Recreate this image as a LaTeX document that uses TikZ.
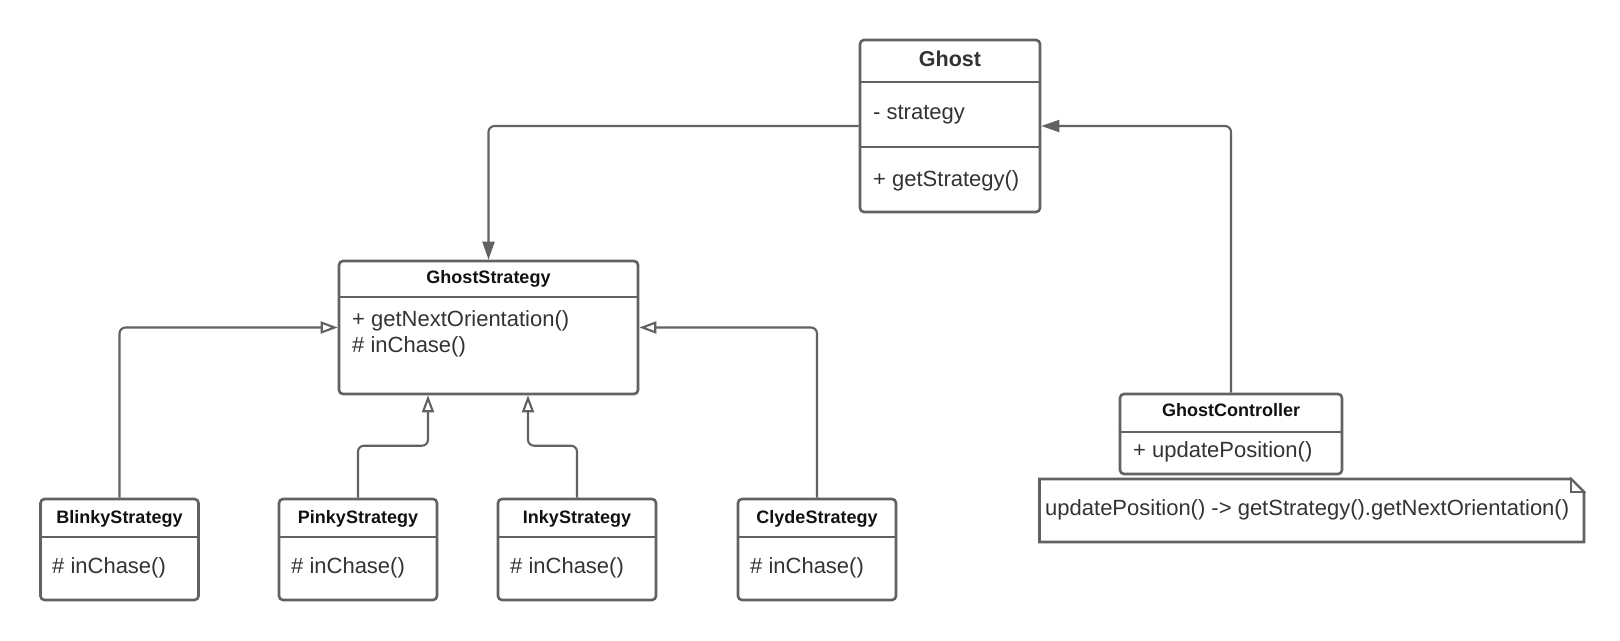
\documentclass[tikz,border=0pt]{standalone}
\usepackage{fontspec}
\setmainfont{Liberation Sans}
\usetikzlibrary{arrows.meta,calc}
\definecolor{lc}{HTML}{626262}
\definecolor{tc}{HTML}{333333}
\definecolor{hc}{HTML}{111111}
\tikzset{
  box/.style={draw=lc, line width=2.6pt, rounded corners=4pt, inner sep=0pt, fill=white},
  sepline/.style={draw=lc, line width=2.6pt},
  txt/.style={anchor=base west, inner sep=0pt, text=tc, font=\fontsize{22}{26}\selectfont},
  hdr/.style={anchor=base, inner sep=0pt, text=hc, font=\bfseries\fontsize{18}{20}\selectfont},
  bighdr/.style={anchor=base, inner sep=0pt, text=tc, font=\bfseries\fontsize{21.5}{24}\selectfont},
  assoc/.style={draw=lc, line width=2.1pt, rounded corners=6pt, -{Triangle[length=18pt,width=12pt]}},
  gen/.style={draw=lc, line width=2.1pt, rounded corners=6pt, -{Triangle[open,length=17pt,width=12pt,line width=2.1pt]}},
}
\begin{document}
\begin{tikzpicture}[x=1pt,y=-1pt]
\useasboundingbox (0,0) rectangle (1620,640);
\fill[white] (0,0) rectangle (1620,640);

% Ghost
\node[box, minimum width=180pt, minimum height=172pt] (ghost) at (950,126) {};
\draw[sepline] (ghost.west |- 0,82) -- (ghost.east |- 0,82);
\draw[sepline] (ghost.west |- 0,147) -- (ghost.east |- 0,147);
\node[bighdr] (ghostT) at (950,66) {Ghost};
\node[txt] (ghostA) at (873,119) {- strategy};
\node[txt] (ghostM) at (873,186) {+ getStrategy()};

% GhostStrategy
\node[box, minimum width=299pt, minimum height=133pt] (gs) at (488.5,327.5) {};
\draw[sepline] (gs.west |- 0,297) -- (gs.east |- 0,297);
\node[hdr] (gsT) at (488.5,283) {GhostStrategy};
\node[txt] (gsM1) at (352,326) {+ getNextOrientation()};
\node[txt] (gsM2) at (352,352) {\# inChase()};

% Strategies
\foreach \n/\cx/\lbl in {blinky/119.5/BlinkyStrategy, pinky/358/PinkyStrategy, inky/577/InkyStrategy, clyde/817/ClydeStrategy}{
  \node[box, minimum width=158pt, minimum height=101pt] (\n) at (\cx,549.5) {};
  \draw[sepline] (\n.west |- 0,537) -- (\n.east |- 0,537);
  \node[hdr] (\n T) at (\cx,523) {\lbl};
}
\node[txt] (blinkyB) at (52,573) {\# inChase()};
\node[txt] (pinkyB) at (291,573) {\# inChase()};
\node[txt] (inkyB) at (510,573) {\# inChase()};
\node[txt] (clydeB) at (750,573) {\# inChase()};

% GhostController
\node[box, minimum width=222pt, minimum height=80pt] (gc) at (1231,434) {};
\draw[sepline] (gc.west |- 0,432) -- (gc.east |- 0,432);
\node[hdr] (gcT) at (1231,416) {GhostController};
\node[txt] (gcM) at (1133,457) {+ updatePosition()};

% Note
\draw[draw=lc, line width=2.6pt, fill=white] (1039.5,479) -- (1571,479) -- (1584,492) -- (1584,542) -- (1039.5,542) -- cycle;
\draw[draw=lc, line width=1.8pt, fill=white] (1571,479) -- (1571,492) -- (1584,492) -- cycle;
\node[txt] (note) at (1045,515) {updatePosition() -> getStrategy().getNextOrientation()};

% Connectors
\draw[assoc] (ghost.west) -| (gs.north);
\draw[assoc] (gc.north) |- (ghost.east);
\draw[gen] (blinky.north) |- (gs.west);
\draw[gen] (clyde.north) |- (gs.east);
\draw[gen] (pinky.north) -- ++(0,-52) -| ([xshift=-60.5pt]gs.south);
\draw[gen] (inky.north) -- ++(0,-52) -| ([xshift=39.5pt]gs.south);
\end{tikzpicture}
\end{document}
